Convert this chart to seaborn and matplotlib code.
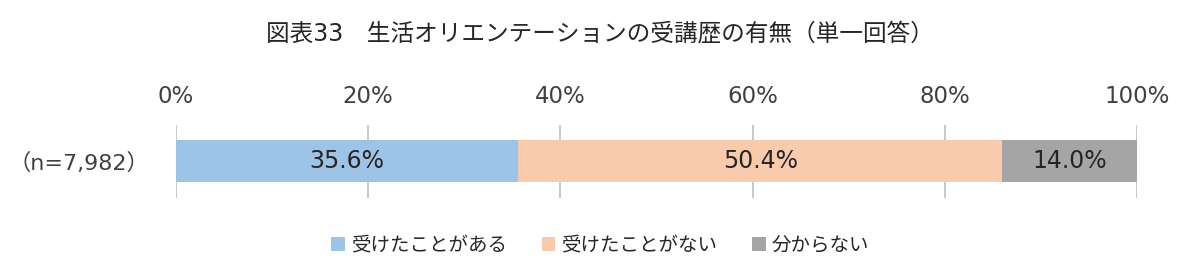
import matplotlib
matplotlib.use("Agg")
import matplotlib.pyplot as plt
import seaborn as sns
import numpy as np
import pandas as pd
from matplotlib.patches import Patch

categories = ["受けたことがある", "受けたことがない", "分からない"]
values = [35.6, 50.4, 14.0]
row_label = "（n=7,982）"
colors = ["#9DC3E6", "#F8CBAD", "#A5A5A5"]
xticks = [0, 20, 40, 60, 80, 100]
title = "図表33　生活オリエンテーションの受講歴の有無（単一回答）"

sns.set_theme(style="white")
plt.rcParams['font.family'] = ['DejaVu Sans', 'Noto Sans CJK JP']

fig = plt.figure(figsize=(12, 2.8), dpi=100)
ax = fig.add_axes([0.1467, 0.293, 0.8008, 0.261])

cum = np.cumsum(values)
# draw largest cumulative first so smaller ones overlay
for i in reversed(range(len(values))):
    df = pd.DataFrame({"row": [row_label], "val": [cum[i]]})
    sns.barplot(data=df, x="val", y="row", color=colors[i], ax=ax,
                width=0.575, saturation=1, edgecolor="none", orient="h")

starts = np.concatenate([[0], cum[:-1]])
for s, v in zip(starts, values):
    ax.text(s + v / 2, 0, f"{v:.1f}%", ha="center", va="center",
            fontsize=17, color="#262626")

ax.set_xlim(0, 100)
ax.set_ylim(0.5, -0.5)
ax.set_xticks(xticks)
ax.set_xticklabels([f"{t}%" for t in xticks], fontsize=16.5, color="#404040")
ax.xaxis.tick_top()
ax.tick_params(axis="x", length=0, pad=12)
ax.tick_params(axis="y", length=0, pad=19, labelsize=16, labelcolor="#404040")
ax.set_xlabel("")
ax.set_ylabel("")
for sp in ax.spines.values():
    sp.set_visible(False)
ax.grid(False)
for t in xticks:
    ax.axvline(t, color="#BFBFBF", lw=1.2, zorder=0)

fig.text(0.5, 0.88, title, ha="center", va="center", fontsize=17, color="#262626")

handles = [Patch(facecolor=c, edgecolor="none") for c in colors]
fig.legend(handles, categories, loc="center", bbox_to_anchor=(0.5, 0.125),
           ncol=3, frameon=False, fontsize=14, handlelength=0.7, handleheight=0.7,
           handletextpad=0.3, columnspacing=1.8, labelcolor="#262626")

fig.savefig("out.png", dpi=100)
